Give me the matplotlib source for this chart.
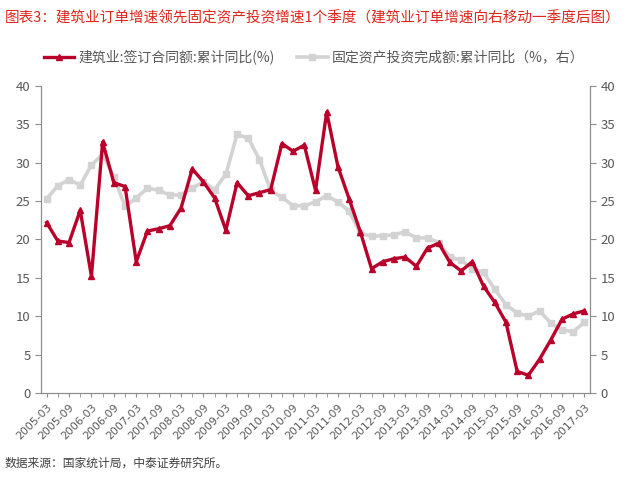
import matplotlib
matplotlib.use('Agg')
import matplotlib.pyplot as plt

plt.rcParams['font.family'] = ['Noto Sans CJK SC', 'DejaVu Sans']

# quarterly, 2005-03 .. 2017-03
quarters = [f'{y}-{m}' for y in range(2005, 2018) for m in ('03', '06', '09', '12')][:49]

construction = [22.2, 19.8, 19.6, 23.8, 15.2, 32.7, 27.4, 26.9, 17.1, 21.1,
                21.4, 21.8, 24.1, 29.2, 27.5, 25.4, 21.2, 27.4, 25.7, 26.1,
                26.5, 32.5, 31.5, 32.3, 26.4, 36.6, 29.5, 25.3, 21.0, 16.2,
                17.1, 17.5, 17.7, 16.5, 18.9, 19.5, 17.0, 15.9, 17.1, 13.9,
                11.8, 9.2, 2.8, 2.3, 4.4, 6.9, 9.6, 10.3, 10.7]

fixed_asset = [25.3, 27.0, 27.8, 27.1, 29.7, 31.1, 28.2, 24.3, 25.4, 26.7,
               26.4, 25.8, 25.8, 26.7, 27.5, 26.5, 28.5, 33.7, 33.2, 30.4,
               26.4, 25.5, 24.4, 24.4, 24.9, 25.7, 24.9, 23.7, 20.8, 20.4,
               20.5, 20.6, 21.0, 20.2, 20.2, 19.6, 17.7, 17.3, 16.2, 15.7,
               13.5, 11.5, 10.4, 10.0, 10.7, 9.1, 8.2, 8.0, 9.2]

yticks = [0, 5, 10, 15, 20, 25, 30, 35, 40]

RED = '#B8002A'
GRAY = '#D3D3D3'
AXIS = '#8C8C8C'
TXT = '#595959'

fig = plt.figure(figsize=(6.28, 4.78), dpi=100)
ax = fig.add_axes([0.0653, 0.178, 0.8742, 0.642])
ax2 = ax.twinx()

x = list(range(len(quarters)))
l1, = ax.plot(x, construction, color=RED, lw=2.4, marker='^', ms=4,
              label='建筑业:签订合同额:累计同比(%)', zorder=3)
l2, = ax2.plot(x, fixed_asset, color=GRAY, lw=2.6, marker='s', ms=4.5,
               label='固定资产投资完成额:累计同比（%，右）', zorder=2)
ax.set_zorder(ax2.get_zorder() + 1)
ax.patch.set_visible(False)

for a in (ax, ax2):
    a.set_ylim(0, 40)
    a.set_yticks(yticks)
    a.set_xlim(-0.5, len(quarters) - 0.5)
    a.spines['top'].set_visible(False)
    for s in ('left', 'right', 'bottom'):
        a.spines[s].set_color(AXIS)
    a.tick_params(axis='y', colors=AXIS, labelcolor=TXT, labelsize=9.5, length=4)

ax.set_xticks(x, minor=True)
ax.set_xticks(x[::2])
ax.set_xticklabels(quarters[::2], rotation=45, ha='right', rotation_mode='anchor',
                   fontsize=7.8, color=TXT, family=['DejaVu Sans'])
ax.tick_params(axis='x', which='both', colors=AXIS, labelcolor=TXT, length=3)

fig.legend(handles=[l1, l2], loc='center', bbox_to_anchor=(0.5, 0.881), ncol=2,
           frameon=False, fontsize=10, handlelength=2.2, handletextpad=0.3,
           columnspacing=1.6, labelcolor=TXT)

fig.text(0.008, 0.962, '图表3：建筑业订单增速领先固定资产投资增速1个季度（建筑业订单增速向右移动一季度后图）',
         color='#E0251B', fontsize=10.5, va='center', ha='left')
fig.text(0.008, 0.031, '数据来源：国家统计局，中泰证券研究所。', color='#404040',
         fontsize=8.5, va='center', ha='left')

fig.savefig('out.png', dpi=100, facecolor='white')
